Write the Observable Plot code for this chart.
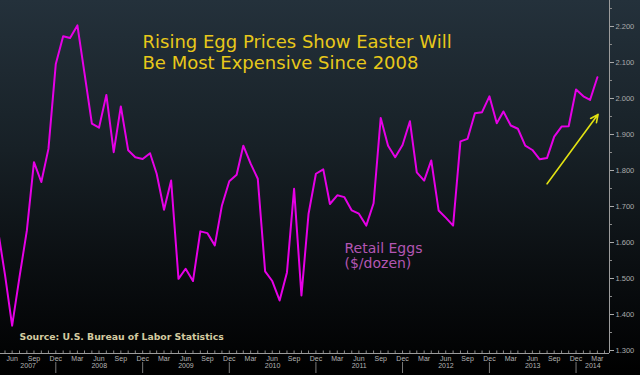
<!DOCTYPE html>
<html><head><meta charset="utf-8">
<script src="https://cdn.jsdelivr.net/npm/d3@7"></script>
<script src="https://cdn.jsdelivr.net/npm/@observablehq/plot@0.6"></script>
<style>
html,body{margin:0;padding:0;background:#000;}
svg{display:block}
</style></head><body><div id="chart"></div>
<script>
// ---- data (monthly average retail price, $/dozen), first month Apr 2007 ----
const firstMonth = "2007-04";
const eggPrices = [
  1.640, 1.510, 1.369, 1.504, 1.633, 1.823, 1.768, 1.860, 2.096,          // Apr07-Dec07
  2.173, 2.168, 2.203, 2.070, 1.930, 1.919, 2.010, 1.851, 1.978, 1.856, 1.837, 1.832, // 2008
  1.848, 1.791, 1.691, 1.772, 1.499, 1.527, 1.493, 1.631, 1.626, 1.592, 1.703, 1.770, // 2009
  1.788, 1.869, 1.819, 1.777, 1.520, 1.493, 1.439, 1.517, 1.749, 1.453, 1.680, 1.791, // 2010
  1.803, 1.707, 1.731, 1.726, 1.689, 1.680, 1.647, 1.709, 1.946, 1.869, 1.837, 1.871, // 2011
  1.937, 1.795, 1.772, 1.828, 1.689, 1.669, 1.647, 1.881, 1.888, 1.959, 1.962, 2.006, // 2012
  1.931, 1.964, 1.925, 1.916, 1.869, 1.857, 1.831, 1.835, 1.894, 1.922, 1.923, 2.025, // 2013
  2.006, 1.996, 2.059                                                      // 2014
];
const yTicks = [1.3, 1.4, 1.5, 1.6, 1.7, 1.8, 1.9, 2.0, 2.1, 2.2];
const yMinorTicks = [1.35, 1.45, 1.55, 1.65, 1.75, 1.85, 1.95, 2.05, 2.15, 2.25];
const xTickLabels = ["Jun","Sep","Dec",
  "Mar","Jun","Sep","Dec","Mar","Jun","Sep","Dec","Mar","Jun","Sep","Dec",
  "Mar","Jun","Sep","Dec","Mar","Jun","Sep","Dec","Mar","Jun","Sep","Dec","Mar"];
const yearLabels = ["2007","2008","2009","2010","2011","2012","2013","2014"];
const titleLines = ["Rising Egg Prices Show Easter Will", "Be Most Expensive Since 2008"];
const seriesLabel = ["Retail Eggs", "($/dozen)"];
const sourceText = "Source: U.S. Bureau of Labor Statistics";
const trendArrow = [{from: "2013-09-01", v1: 1.763, to: "2014-04-04", v2: 1.956}];

// ---- derived tables ----
const start = d3.utcParse("%Y-%m")(firstMonth);
// monthly observations are plotted at the month end
const data = eggPrices.map((v, i) => ({date: d3.utcMonth.offset(start, i + 1), value: v}));
const xDomain = [new Date(Date.UTC(2007, 4, 13)), new Date(Date.UTC(2014, 4, 22))];
const yDomain = [1.2917, 2.2722];
const firstTick = new Date(Date.UTC(2007, 6, 1));
const quarterTicks = xTickLabels.map((_, i) => d3.utcMonth.offset(firstTick, 3 * i));
const labelMap = new Map(quarterTicks.map((d, i) => [+d, xTickLabels[i]]));
const monthTicks = d3.utcMonth.range(xDomain[0], xDomain[1]);
const yearBounds = yearLabels.slice(1).map(y => new Date(Date.UTC(+y, 0, 1)));
const yearMid = yearLabels.map(y => {
  const a = Math.max(Date.UTC(+y, 0, 1), +xDomain[0]);
  const b = Math.min(Date.UTC(+y + 1, 0, 1), +xDomain[1]);
  return {label: y, date: new Date((a + b) / 2)};
});
const H = 353;
const yAt = px => yDomain[1] - px / H * (yDomain[1] - yDomain[0]);
const iso = d3.utcParse("%Y-%m-%d");

const chart = Plot.plot({
  width: 640, height: 375,
  marginTop: 0, marginRight: 31, marginBottom: 22, marginLeft: 0,
  style: {
    background: "linear-gradient(to bottom, #24313b 0%, #172026 40%, #0b0f12 70%, #030405 92%, #000 100%)",
    fontFamily: "Liberation Sans, Arial, sans-serif",
    overflow: "visible"
  },
  x: {type: "utc", domain: xDomain},
  y: {domain: yDomain},
  marks: [
    Plot.ruleY([yDomain[0]], {stroke: "#9c9c9c", strokeWidth: 1}),
    Plot.ruleX([xDomain[1]], {stroke: "#9c9c9c", strokeWidth: 1}),
    Plot.ruleX(monthTicks, {x: d => d, y1: yAt(350.5), y2: yDomain[0], stroke: "#8a8a8a"}),
    Plot.ruleX(yearBounds, {x: d => d, y1: yAt(362), y2: yAt(373), stroke: "#7a7a7a"}),
    Plot.axisX({ticks: quarterTicks, tickSize: 0, tickPadding: 2.5, tickFormat: d => labelMap.get(+d),
      fontSize: 7, color: "#b4b4b4", label: null}),
    Plot.text(yearMid, {x: "date", text: "label", frameAnchor: "bottom", dy: 14, fontSize: 7, fill: "#b4b4b4"}),
    Plot.axisY({anchor: "right", ticks: yTicks, tickFormat: d3.format(".3f"), tickSize: 4, tickPadding: 2,
      fontSize: 7.5, color: "#ababab", label: null}),
    Plot.axisY({anchor: "right", ticks: yMinorTicks, tickSize: 2, tickFormat: () => "", color: "#8a8a8a", label: null}),
    Plot.line(data, {x: "date", y: "value", stroke: "#e600e6", strokeWidth: 2, clip: true}),
    Plot.arrow(trendArrow, {x1: d => iso(d.from), y1: "v1", x2: d => iso(d.to), y2: "v2",
      stroke: "#e2e212", strokeWidth: 1.6, headLength: 8, headAngle: 50}),
    Plot.text([titleLines.join("\n")], {text: d => d, frameAnchor: "top-left", dx: 142, dy: 33,
      textAnchor: "start", lineAnchor: "top", lineHeight: 21 / 18, fontSize: 18,
      fontFamily: "DejaVu Sans", fill: "#e8c81a"}),
    Plot.text([seriesLabel.join("\n")], {text: d => d, frameAnchor: "top-left", dx: 344, dy: 241,
      textAnchor: "start", lineAnchor: "top", lineHeight: 15.5 / 14, fontSize: 14,
      fontFamily: "DejaVu Sans", fill: "#b356b3"}),
    Plot.text([sourceText], {text: d => d, frameAnchor: "top-left", dx: 19, dy: 332.4,
      textAnchor: "start", lineAnchor: "top", fontSize: 9.3, fontWeight: "bold",
      fontFamily: "DejaVu Sans", fill: "#d4cba0"})
  ]
});
document.getElementById("chart").append(chart);
</script>
</body></html>
